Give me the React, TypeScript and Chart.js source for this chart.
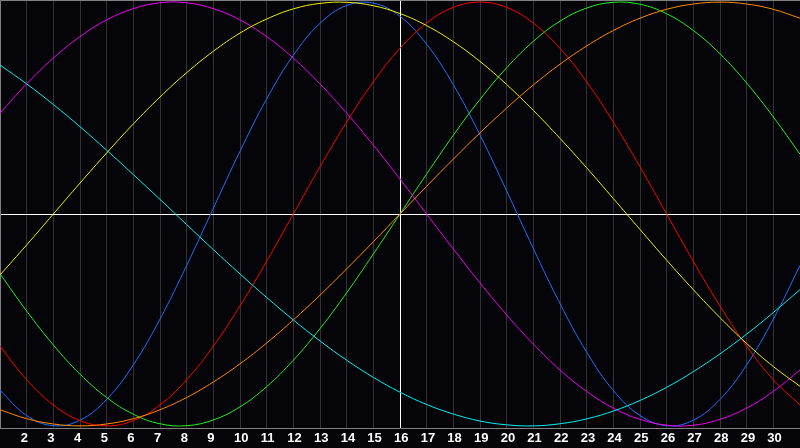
import React, { useEffect, useRef } from "react";
import { Chart, registerables } from "chart.js";

Chart.register(...registerables);

const days = [1, 2, 3, 4, 5, 6, 7, 8, 9, 10, 11, 12, 13, 14, 15, 16, 17, 18, 19, 20, 21, 22, 23, 24, 25, 26, 27, 28, 29, 30, 31];
const tickLabels = ["2", "3", "4", "5", "6", "7", "8", "9", "10", "11", "12", "13", "14", "15", "16", "17", "18", "19", "20", "21", "22", "23", "24", "25", "26", "27", "28", "29", "30"];
const markedDay = 16;

const blueSeries = [-0.832, -0.951, -0.999, -0.973, -0.875, -0.712, -0.496, -0.243, 0.027, 0.296, 0.543, 0.749, 0.9, 0.984, 0.995, 0.933, 0.801, 0.61, 0.373, 0.109, -0.163, -0.423, -0.652, -0.833, -0.951, -0.999, -0.973, -0.875, -0.712, -0.496, -0.243];
const redSeries = [-0.624, -0.782, -0.901, -0.975, -1, -0.975, -0.901, -0.782, -0.624, -0.434, -0.223, 0, 0.223, 0.434, 0.624, 0.782, 0.901, 0.975, 1, 0.975, 0.901, 0.782, 0.624, 0.434, 0.223, 0, -0.223, -0.434, -0.624, -0.782, -0.901];
const greenSeries = [-0.282, -0.458, -0.618, -0.756, -0.866, -0.945, -0.99, -0.999, -0.972, -0.91, -0.815, -0.69, -0.541, -0.372, -0.189, 0, 0.189, 0.372, 0.541, 0.69, 0.815, 0.91, 0.972, 0.999, 0.99, 0.945, 0.866, 0.756, 0.618, 0.458, 0.282];
const magentaSeries = [0.476, 0.614, 0.736, 0.837, 0.916, 0.969, 0.997, 0.997, 0.969, 0.916, 0.837, 0.736, 0.614, 0.476, 0.325, 0.165, 0, -0.165, -0.325, -0.476, -0.614, -0.736, -0.837, -0.916, -0.969, -0.997, -0.997, -0.969, -0.916, -0.837, -0.736];
const yellowSeries = [-0.288, -0.146, 0, 0.146, 0.288, 0.425, 0.552, 0.667, 0.768, 0.854, 0.92, 0.968, 0.994, 0.999, 0.983, 0.946, 0.889, 0.813, 0.72, 0.611, 0.489, 0.357, 0.218, 0.073, -0.073, -0.218, -0.357, -0.489, -0.611, -0.72, -0.813];
const orangeSeries = [-0.924, -0.966, -0.991, -1, -0.991, -0.966, -0.924, -0.866, -0.793, -0.707, -0.609, -0.5, -0.383, -0.259, -0.131, 0, 0.131, 0.259, 0.383, 0.5, 0.609, 0.707, 0.793, 0.866, 0.924, 0.966, 0.991, 1, 0.991, 0.966, 0.924];
const cyanSeries = [0.703, 0.614, 0.517, 0.412, 0.301, 0.186, 0.069, -0.05, -0.168, -0.283, -0.394, -0.5, -0.599, -0.69, -0.771, -0.841, -0.899, -0.944, -0.977, -0.995, -1, -0.99, -0.967, -0.93, -0.88, -0.818, -0.744, -0.66, -0.567, -0.465, -0.357];

const seriesList = [
  { name: "cyan", values: cyanSeries, color: "#00f0f0" },
  { name: "orange", values: orangeSeries, color: "#ff8a00" },
  { name: "yellow", values: yellowSeries, color: "#f0f000" },
  { name: "magenta", values: magentaSeries, color: "#f000f0" },
  { name: "green", values: greenSeries, color: "#20f020" },
  { name: "red", values: redSeries, color: "#ff0000" },
  { name: "blue", values: blueSeries, color: "#1e6eff" },
];

const BG = "#050509";
const GRID = "#333333";
const FRAME = "#808080";

const framePlugin = {
  id: "framePlugin",
  beforeDraw(chart: any) {
    const ctx = chart.ctx;
    ctx.save();
    ctx.fillStyle = BG;
    ctx.fillRect(0, 0, chart.width, chart.height);
    ctx.restore();
  },
  beforeDatasetsDraw(chart: any) {
    const ctx = chart.ctx;
    const area = chart.chartArea;
    const y = chart.scales.y;
    const zy = Math.round(y.getPixelForValue(0)) + 0.5;
    ctx.save();
    ctx.lineWidth = 1;
    ctx.strokeStyle = "#ffffff";
    ctx.beginPath();
    ctx.moveTo(area.left, zy);
    ctx.lineTo(area.right, zy);
    ctx.stroke();
    ctx.strokeStyle = FRAME;
    ctx.beginPath();
    ctx.moveTo(Math.round(area.left) + 0.5, Math.round(area.bottom));
    ctx.lineTo(Math.round(area.left) + 0.5, Math.round(area.top) + 0.5);
    ctx.lineTo(area.right, Math.round(area.top) + 0.5);
    ctx.stroke();
    ctx.restore();
  },
};

export default function App() {
  const canvasRef = useRef<HTMLCanvasElement | null>(null);

  useEffect(() => {
    document.body.style.margin = "0";
    document.body.style.background = BG;
    const canvas = canvasRef.current;
    if (!canvas) return;
    const chart = new Chart(canvas, {
      type: "line",
      data: {
        datasets: seriesList.map((s) => ({
          label: s.name,
          data: days.map((d, i) => ({ x: d, y: s.values[i] })),
          borderColor: s.color,
          backgroundColor: s.color,
          borderWidth: 1,
          pointRadius: 0,
          pointHoverRadius: 0,
          pointHitRadius: 0,
          pointBorderWidth: 0,
          tension: 0.4,
          fill: false,
        })),
      },
      options: {
        animation: false,
        responsive: false,
        maintainAspectRatio: false,
        events: [],
        layout: { padding: 0, autoPadding: false },
        plugins: {
          legend: { display: false },
          tooltip: { enabled: false },
          title: { display: false },
        },
        scales: {
          x: {
            type: "linear",
            min: 1,
            max: 31,
            afterFit: (scale: any) => {
              scale.height = 20;
            },
            ticks: {
              stepSize: 1,
              autoSkip: false,
              maxRotation: 0,
              minRotation: 0,
              align: "start",
              labelOffset: -6,
              padding: 0,
              color: "#ffffff",
              font: { family: '"Liberation Sans", Arial, sans-serif', size: 13, weight: "bold", lineHeight: 1.662 },
              callback: (value: any) => (tickLabels.includes(String(value)) ? String(value) : ""),
            },
            grid: {
              drawTicks: false,
              lineWidth: 1,
              color: (ctx: any) => (ctx.tick && ctx.tick.value === markedDay ? "#ffffff" : GRID),
            },
            border: { display: true, color: FRAME, width: 1 },
          },
          y: {
            type: "linear",
            display: false,
            min: -1.01,
            max: 1.01,
          },
        },
      },
      plugins: [framePlugin],
    });
    return () => chart.destroy();
  }, []);

  return (
    <div style={{ width: 800, height: 448, background: BG }}>
      <canvas ref={canvasRef} width={800} height={448} style={{ display: "block" }} />
    </div>
  );
}
